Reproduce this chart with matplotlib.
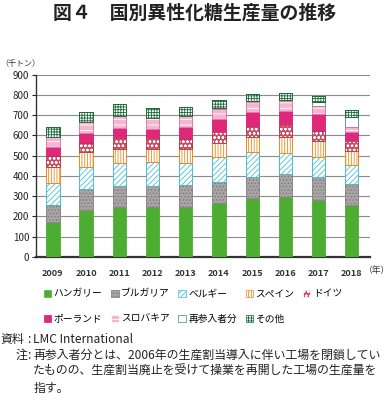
import numpy as np
import matplotlib
matplotlib.use("Agg")
import matplotlib.pyplot as plt
from matplotlib.patches import Patch

plt.rcParams['font.family'] = ['Noto Sans CJK JP', 'DejaVu Sans']
plt.rcParams['hatch.linewidth'] = 0.6

# Data (thousand tonnes)
years = ['2009', '2010', '2011', '2012', '2013', '2014', '2015', '2016', '2017', '2018']
hungary  = [173, 231, 248, 246, 246, 264, 289, 297, 281, 256]
bulgaria = [83, 102, 102, 104, 107, 106, 107, 112, 115, 104]
belgium  = [110, 113, 116, 117, 109, 122, 122, 106, 99, 94]
spain    = [76, 72, 66, 66, 70, 69, 73, 79, 78, 71]
germany  = [57, 47, 56, 56, 49, 55, 56, 60, 51, 50]
poland   = [45, 46, 48, 45, 63, 66, 70, 68, 83, 44]
slovakia = [48, 55, 62, 51, 53, 48, 49, 49, 38, 22]
reentry  = [0, 0, 0, 0, 0, 5, 5, 5, 20, 49]
others   = [52, 52, 57, 50, 46, 41, 35, 33, 29, 37]

labels = ['ハンガリー', 'ブルガリア', 'ベルギー', 'スペイン', 'ドイツ',
          'ポーランド', 'スロバキア', '再参入者分', 'その他']
series = [hungary, bulgaria, belgium, spain, germany, poland, slovakia, reentry, others]

# (facecolor, hatch, hatch colour)
styles = [
    ('#4DAD33', None, None),
    ('#A9A5A6', '.....', '#7E7778'),
    ('white', '//////', '#47BFD6'),
    ('white', '||||||', '#F08A1C'),
    ('#CC4A62', 'oooo', 'white'),
    ('#E0287A', None, None),
    ('#F6B6D0', '---', 'white'),
    ('white', None, None),
    ('white', '++++++', '#1F6B3A'),
]
edges = ['#4DAD33', '#8E8788', '#47BFD6', '#F08A1C', '#B03A50',
         '#D02070', '#E27AA6', '#3E8C7A', '#1F6B3A']

fig = plt.figure(figsize=(3.9, 4.0), dpi=100)
ax = fig.add_axes([0.093, 0.358, 0.856, 0.455])

x = np.arange(len(years))
w = 0.4
bottom = np.zeros(len(years))
handles = []
for vals, (fc, hatch, hc), ec, lab in zip(series, styles, edges, labels):
    vals = np.array(vals, dtype=float)
    ax.bar(x, vals, w, bottom=bottom, color=fc, edgecolor=ec, linewidth=0.6, zorder=3)
    if hatch:
        ax.bar(x, vals, w, bottom=bottom, color='none', edgecolor=hc,
               hatch=hatch, linewidth=0, zorder=4)
        ax.bar(x, vals, w, bottom=bottom, color='none', edgecolor=ec,
               linewidth=0.6, zorder=5)
    bottom += vals
    handles.append(Patch(facecolor=fc, edgecolor=hc if hatch else ec,
                         hatch=hatch, linewidth=0.5))

ax.set_xlim(-0.5, 9.55)
ax.set_ylim(0, 900)
ax.set_yticks(range(0, 901, 100))
ax.yaxis.grid(True, color='#8C8C8C', linewidth=0.8, zorder=0)
ax.set_axisbelow(True)
ax.set_xticks(x)
ax.set_xticklabels(years, fontsize=6.6, fontweight='bold', color='#333333')
ax.tick_params(axis='y', labelsize=7, length=3, width=0.8, pad=2, colors='#222222')
ax.tick_params(axis='x', length=0, pad=9)
for s in ['top', 'right']:
    ax.spines[s].set_visible(False)
ax.spines['left'].set_linewidth(1.0)
ax.spines['left'].set_color('#333333')
ax.spines['bottom'].set_linewidth(1.6)
ax.spines['bottom'].set_color('#333333')

fig.text(0.5, 0.968, '図４　国別異性化糖生産量の推移', ha='center', va='center',
         fontsize=13.6, fontweight='bold', color='#222222')
fig.text(0.0, 0.842, '（千トン）', ha='left', va='center', fontsize=5.8, color='#333333')
fig.text(0.933, 0.325, '（年）', ha='left', va='center', fontsize=6.3, color='#333333')

# legend: two rows of 5 and 4
order = [0, 5, 1, 6, 2, 7, 3, 8, 4]
fig.legend([handles[i] for i in order], [labels[i] for i in order],
           ncol=5, loc='center', bbox_to_anchor=(0.495, 0.235), frameon=False,
           fontsize=7, handlelength=0.75, handleheight=0.75, handletextpad=0.25,
           columnspacing=0.9, labelspacing=1.55)

fs = 8.6
col = '#222222'
fig.text(0.0, 0.151, '資料', fontsize=fs, va='center', color=col)
fig.text(0.07, 0.151, ':', fontsize=fs, va='center', color=col)
fig.text(0.085, 0.151, 'LMC International', fontsize=fs, va='center', color=col)
fig.text(0.04, 0.111, '注', fontsize=fs, va='center', color=col)
fig.text(0.07, 0.111, ':', fontsize=fs, va='center', color=col)
fig.text(0.085, 0.111, '再参入者分とは、2006年の生産割当導入に伴い工場を閉鎖してい',
         fontsize=fs, va='center', color=col)
fig.text(0.085, 0.071, 'たものの、生産割当廃止を受けて操業を再開した工場の生産量を',
         fontsize=fs, va='center', color=col)
fig.text(0.085, 0.030, '指す。', fontsize=fs, va='center', color=col)

fig.savefig('out.png', dpi=100)
